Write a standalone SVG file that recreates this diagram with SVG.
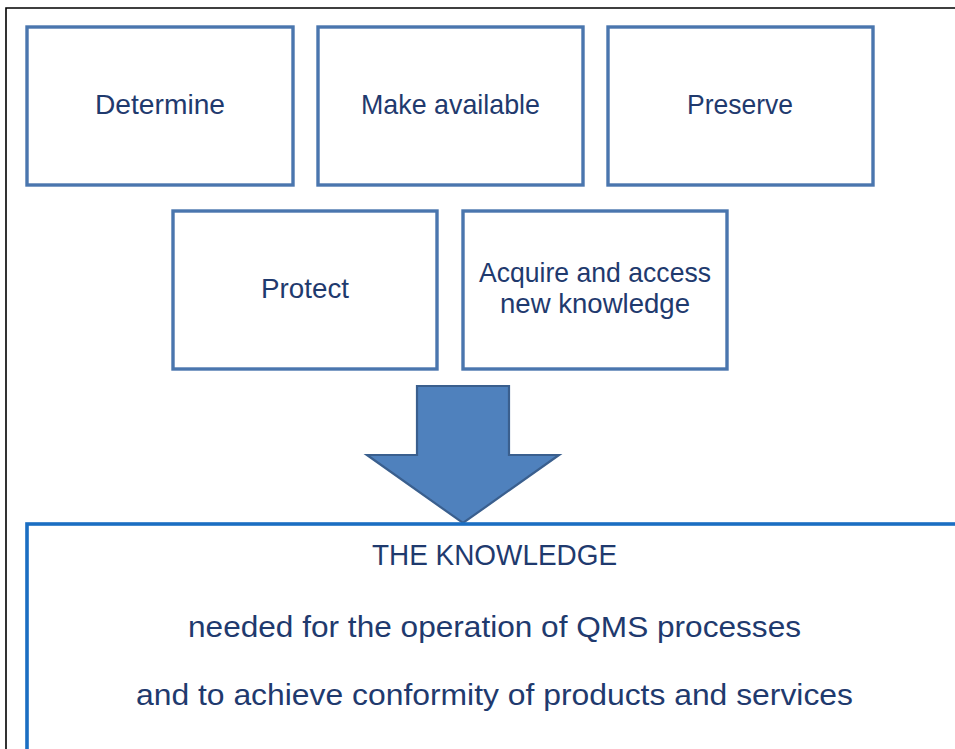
<svg xmlns="http://www.w3.org/2000/svg" width="955" height="749" viewBox="0 0 955 749">
<style>
.box{fill:#fff;stroke:#4a76ae;stroke-width:3.4}
.big{fill:#fff;stroke:#1b6ec2;stroke-width:3.6}
.t{font-family:"Liberation Sans",Arial,sans-serif;font-size:28px;fill:#1f3a6e;text-anchor:middle}
.b{font-size:29.5px}
</style>
<rect x="0" y="0" width="955" height="749" fill="#fff"/>
<path d="M6,749 V8 H955" fill="none" stroke="#000" stroke-width="1.6"/>
<g id="determine"><rect class="box" x="27" y="27" width="266" height="158"/><text class="t" x="160" y="114" textLength="130" lengthAdjust="spacingAndGlyphs">Determine</text></g>
<g id="make-available"><rect class="box" x="318" y="27" width="265" height="158"/><text class="t" x="450.5" y="114" textLength="179" lengthAdjust="spacingAndGlyphs">Make available</text></g>
<g id="preserve"><rect class="box" x="608" y="27" width="265" height="158"/><text class="t" x="740" y="114" textLength="106" lengthAdjust="spacingAndGlyphs">Preserve</text></g>
<g id="protect"><rect class="box" x="173" y="211" width="264" height="158"/><text class="t" x="305" y="298" textLength="88" lengthAdjust="spacingAndGlyphs">Protect</text></g>
<g id="acquire"><rect class="box" x="463" y="211" width="264" height="158"/><text class="t" x="595" y="282" textLength="232" lengthAdjust="spacingAndGlyphs">Acquire and access</text><text class="t" x="595" y="313" textLength="190" lengthAdjust="spacingAndGlyphs">new knowledge</text></g>
<g id="connectors"><polygon points="417,386 509,386 509,455 559,455 463,523 367,455 417,455" fill="#4f81bd" stroke="#3a5f8e" stroke-width="2.2" stroke-linejoin="miter"/></g>
<g id="knowledge"><rect class="big" x="27" y="524" width="940" height="240"/>
<text class="t b" x="494.5" y="565" textLength="245" lengthAdjust="spacingAndGlyphs">THE KNOWLEDGE</text>
<text class="t b" x="494.5" y="637" textLength="613" lengthAdjust="spacingAndGlyphs">needed for the operation of QMS processes</text>
<text class="t b" x="494.5" y="705" textLength="717" lengthAdjust="spacingAndGlyphs">and to achieve conformity of products and services</text></g>
</svg>
